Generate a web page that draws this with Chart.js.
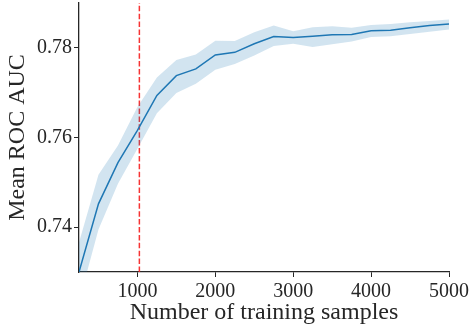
<!DOCTYPE html>
<html>
<head>
<meta charset="utf-8">
<script src="https://cdn.jsdelivr.net/npm/chart.js@4/dist/chart.umd.min.js"></script>
<style>
  html, body { margin: 0; padding: 0; background: #fff; }
  #wrap { width: 470px; height: 324px; }
</style>
</head>
<body>
<div id="wrap"><canvas id="chart"></canvas></div>
<script>
  // training set sizes and mean ROC AUC (+/- band)
  const samples = [250, 500, 750, 1000, 1250, 1500, 1750, 2000, 2250, 2500,
                   2750, 3000, 3250, 3500, 3750, 4000, 4250, 4500, 4750, 5000];
  const meanAuc = [0.7300, 0.7452, 0.7544, 0.7616, 0.7694, 0.7738, 0.7753, 0.7784, 0.7790, 0.7809,
                   0.7825, 0.7823, 0.7826, 0.7829, 0.7830, 0.7838, 0.7839, 0.7845, 0.7850, 0.7853];
  const upperAuc = [0.7366, 0.7517, 0.7582, 0.7668, 0.7734, 0.7773, 0.7785, 0.7816, 0.7815, 0.7835,
                    0.7850, 0.7837, 0.7846, 0.7848, 0.7845, 0.7851, 0.7853, 0.7857, 0.7860, 0.7863];
  const lowerAuc = [0.7234, 0.7395, 0.7497, 0.7575, 0.7654, 0.7699, 0.7720, 0.7751, 0.7764, 0.7783,
                    0.7804, 0.7809, 0.7802, 0.7808, 0.7814, 0.7824, 0.7826, 0.7831, 0.7836, 0.7841];
  const cutoff = 1025;
  const xTicks = [1000, 2000, 3000, 4000, 5000];
  const yTicks = [0.74, 0.76, 0.78];

  const font = "'Liberation Serif', 'DejaVu Serif', serif";
  const ink = "#262626";
  const pts = (ys) => samples.map((x, i) => ({ x, y: ys[i] }));

  new Chart(document.getElementById("chart"), {
    type: "line",
    data: {
      datasets: [
        { data: pts(lowerAuc), borderWidth: 0, pointRadius: 0, fill: false, tension: 0 },
        { data: pts(upperAuc), borderWidth: 0, pointRadius: 0, fill: "-1",
          backgroundColor: "rgba(31,119,180,0.2)", tension: 0 },
        { data: pts(meanAuc), borderColor: "#1f77b4", borderWidth: 1.5, pointRadius: 0,
          fill: false, tension: 0 },
        { data: [{ x: cutoff, y: 0.73 }, { x: cutoff, y: 0.79 }], borderColor: "rgba(245,30,30,0.9)",
          borderWidth: 1.5, borderDash: [5.5, 2.4], pointRadius: 0, fill: false },
      ],
    },
    options: {
      responsive: true,
      maintainAspectRatio: false,
      animation: false,
      parsing: false,
      layout: { padding: { top: 3, right: 21, left: 0, bottom: 0 } },
      plugins: { legend: { display: false }, tooltip: { enabled: false } },
      scales: {
        x: {
          type: "linear",
          min: 250,
          max: 5000,
          afterBuildTicks: (s) => { s.ticks = xTicks.map((v) => ({ value: v })); },
          afterFit: (s) => { s.height = 52; s.paddingLeft = 0; s.paddingRight = 0; },
          grid: { drawOnChartArea: false, drawTicks: true, tickLength: 5, color: ink, lineWidth: 1 },
          border: { display: true, color: ink, width: 1.3 },
          ticks: { color: ink, font: { family: font, size: 20 }, padding: 3, maxRotation: 0,
                   callback: (v) => String(v) },
          title: { display: true, text: "Number of training samples", color: ink,
                   font: { family: font, size: 24 }, padding: { top: -6, bottom: -3 } },
        },
        y: {
          min: 0.73,
          max: 0.79,
          afterBuildTicks: (s) => { s.ticks = yTicks.map((v) => ({ value: v })); },
          afterFit: (s) => { s.width = 79; s.paddingTop = 0; s.paddingBottom = 0; },
          grid: { drawOnChartArea: false, drawTicks: true, tickLength: 5, color: ink, lineWidth: 1 },
          border: { display: true, color: ink, width: 1.3 },
          ticks: { color: ink, font: { family: font, size: 20 }, padding: 2,
                   callback: (v) => v.toFixed(2) },
          title: { display: true, text: "Mean ROC AUC", color: ink,
                   font: { family: font, size: 24 }, padding: { top: 3, bottom: 0 } },
        },
      },
    },
  });
</script>
</body>
</html>
